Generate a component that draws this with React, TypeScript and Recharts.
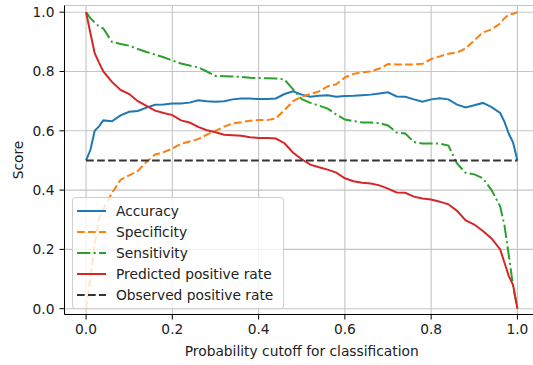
import {
  LineChart,
  Line,
  XAxis,
  YAxis,
  CartesianGrid,
  Legend,
} from 'recharts';

// cutoff grid (x) and the four curves
const cutoffs = [
  0, 0.01, 0.02, 0.03, 0.04,
  0.06, 0.08, 0.1, 0.12, 0.14, 0.16, 0.18, 0.2, 0.22, 0.24,
  0.26, 0.28, 0.3, 0.32, 0.34, 0.36, 0.38, 0.4, 0.42, 0.44,
  0.46, 0.48, 0.5, 0.52, 0.54, 0.56, 0.58, 0.6, 0.62, 0.64,
  0.66, 0.68, 0.7, 0.72, 0.74, 0.76, 0.78, 0.8, 0.82, 0.84,
  0.86, 0.88, 0.9, 0.92, 0.94, 0.96,
  0.97, 0.98, 0.99, 1.0,
];

const accuracy = [
  0.5, 0.535, 0.6, 0.615, 0.635,
  0.632, 0.652, 0.664, 0.667, 0.678, 0.688, 0.689, 0.692, 0.692, 0.695,
  0.703, 0.7, 0.698, 0.7, 0.706, 0.709, 0.709, 0.707, 0.707, 0.709,
  0.724, 0.733, 0.722, 0.715, 0.718, 0.72, 0.715, 0.717, 0.718, 0.72,
  0.722, 0.726, 0.73, 0.716, 0.715, 0.706, 0.698, 0.706, 0.71, 0.706,
  0.688, 0.679, 0.686, 0.694, 0.68, 0.66,
  0.63, 0.59, 0.56, 0.5,
];

const specificity = [
  0, 0.1, 0.22, 0.305, 0.335,
  0.39, 0.435, 0.45, 0.465, 0.495, 0.52, 0.528, 0.54, 0.556, 0.564,
  0.572, 0.587, 0.6, 0.614, 0.625, 0.629, 0.634, 0.636, 0.636, 0.642,
  0.67, 0.7, 0.715, 0.724, 0.733, 0.75, 0.757, 0.78, 0.792, 0.797,
  0.8, 0.81, 0.825, 0.824, 0.824, 0.824, 0.826, 0.842, 0.851, 0.86,
  0.864, 0.878, 0.905, 0.932, 0.942, 0.962,
  0.98, 0.992, 0.995, 1.0,
];

const sensitivity = [
  1, 0.98, 0.965, 0.952, 0.945,
  0.9, 0.893, 0.887, 0.876, 0.866, 0.857, 0.848, 0.837, 0.827, 0.82,
  0.814, 0.8, 0.785, 0.784, 0.783, 0.782, 0.779, 0.778, 0.777, 0.776,
  0.773, 0.74, 0.707, 0.694, 0.685, 0.675, 0.655, 0.638, 0.633, 0.628,
  0.628, 0.626, 0.618, 0.594, 0.591, 0.562, 0.557, 0.557, 0.557, 0.55,
  0.49, 0.458, 0.453, 0.44, 0.4, 0.345,
  0.28, 0.18, 0.075, 0,
];

const predictedRate = [
  1, 0.93, 0.862, 0.83, 0.8,
  0.765, 0.738, 0.724, 0.7, 0.684, 0.668, 0.66, 0.653, 0.635, 0.628,
  0.613, 0.602, 0.595, 0.587, 0.585, 0.583, 0.578, 0.576, 0.576, 0.574,
  0.558, 0.526, 0.504, 0.486, 0.477, 0.469, 0.459, 0.44, 0.43, 0.425,
  0.422, 0.416, 0.405, 0.392, 0.391, 0.378, 0.372, 0.368, 0.361, 0.352,
  0.33, 0.298, 0.284, 0.262, 0.237, 0.2,
  0.155, 0.11, 0.08, 0,
];

// observed positive rate is flat across the whole range
const observedCutoffs = [0, 1];
const observedRate = [0.5, 0.5];

const xTicks = [0, 0.2, 0.4, 0.6, 0.8, 1.0];
const yTicks = [0, 0.2, 0.4, 0.6, 0.8, 1.0];

const data = cutoffs.map((c, i) => ({
  cutoff: c,
  accuracy: accuracy[i],
  specificity: specificity[i],
  sensitivity: sensitivity[i],
  predicted: predictedRate[i],
}));

const observedData = observedCutoffs.map((c, i) => ({
  cutoff: c,
  observed: observedRate[i],
}));

const FONT = 'DejaVu Sans';
const FS = 13.8;
const TEXT = '#222';

const series = [
  { key: 'accuracy', name: 'Accuracy', color: '#1f77b4', dash: undefined },
  { key: 'specificity', name: 'Specificity', color: '#ff7f0e', dash: '7.7 3.3' },
  { key: 'sensitivity', name: 'Sensitivity', color: '#2ca02c', dash: '13.3 3.3 2.1 3.3' },
  { key: 'predicted', name: 'Predicted positive rate', color: '#d62728', dash: undefined },
  { key: 'observed', name: 'Observed positive rate', color: '#333333', dash: '7.7 3.3' },
];

function LegendBox() {
  return (
    <div
      style={{
        width: 210,
        padding: '2px 0',
        border: '1px solid #d0d0d0',
        borderRadius: 3,
        background: 'rgba(255,255,255,0.8)',
        fontFamily: FONT,
        fontSize: FS,
        color: TEXT,
      }}
    >
      {series.map((s) => (
        <div
          key={s.key}
          style={{ display: 'flex', alignItems: 'center', height: 21.2 }}
        >
          <svg width={29} height={6} style={{ marginLeft: 4, marginRight: 10 }}>
            <line
              x1={0}
              y1={3}
              x2={29}
              y2={3}
              stroke={s.color}
              strokeWidth={2}
              strokeDasharray={s.dash}
            />
          </svg>
          <span style={{ whiteSpace: 'nowrap' }}>{s.name}</span>
        </div>
      ))}
    </div>
  );
}

function ScoreLabel(props: any) {
  const vb = props.viewBox || { x: 0, y: 0, height: 0 };
  const cx = 23;
  const cy = vb.y + vb.height / 2;
  return (
    <text
      x={cx}
      y={cy}
      transform={`rotate(-90, ${cx}, ${cy})`}
      textAnchor="middle"
      fill={TEXT}
      fontFamily={FONT}
      fontSize={FS}
    >
      Score
    </text>
  );
}

export default function App() {
  const tick = { fill: TEXT, fontSize: FS, fontFamily: FONT };
  return (
    <div
      style={{
        position: 'absolute',
        left: 0,
        top: 0,
        width: 533,
        height: 365,
        overflow: 'hidden',
        background: '#fff',
      }}
    >
      <LineChart
        width={545}
        height={365}
        data={data}
        margin={{ top: 5.5, right: 6, bottom: 0, left: 0 }}
      >
        <CartesianGrid stroke="#c4c4c4" strokeWidth={1.1} />
        <XAxis
          dataKey="cutoff"
          type="number"
          domain={[-0.05, 1.05]}
          ticks={xTicks}
          allowDataOverflow
          tickFormatter={(v) => v.toFixed(1)}
          tick={tick}
          tickSize={5}
          tickMargin={5}
          height={50.5}
          stroke="#000"
          axisLine={{ stroke: '#000', strokeWidth: 1 }}
          tickLine={{ stroke: '#000' }}
          label={{
            value: 'Probability cutoff for classification',
            position: 'insideBottom',
            offset: 9.3,
            fill: TEXT,
            fontSize: FS,
            fontFamily: FONT,
          }}
        />
        <XAxis
          xAxisId="top"
          orientation="top"
          type="number"
          domain={[-0.05, 1.05]}
          height={0}
          tick={false}
          tickLine={false}
          axisLine={{ stroke: '#000', strokeWidth: 1 }}
        />
        <YAxis
          type="number"
          domain={[-0.0196, 1.0226]}
          ticks={yTicks}
          allowDataOverflow
          tickFormatter={(v) => v.toFixed(1)}
          tick={tick}
          tickSize={5}
          tickMargin={5}
          width={64.5}
          axisLine={{ stroke: '#000', strokeWidth: 1 }}
          tickLine={{ stroke: '#000' }}
          label={<ScoreLabel />}
        />
        <Legend
          layout="vertical"
          align="center"
          verticalAlign="middle"
          wrapperStyle={{ left: 72, top: 197, width: 212 }}
          content={() => <LegendBox />}
        />
        {series.slice(0, 4).map((s) => (
          <Line
            key={s.key}
            type="linear"
            dataKey={s.key}
            name={s.name}
            stroke={s.color}
            strokeWidth={2}
            strokeDasharray={s.dash}
            dot={false}
            isAnimationActive={false}
          />
        ))}
        <Line
          data={observedData}
          type="linear"
          dataKey="observed"
          name="Observed positive rate"
          stroke="#333333"
          strokeWidth={2}
          strokeDasharray="7.7 3.3"
          dot={false}
          isAnimationActive={false}
        />
      </LineChart>
    </div>
  );
}
